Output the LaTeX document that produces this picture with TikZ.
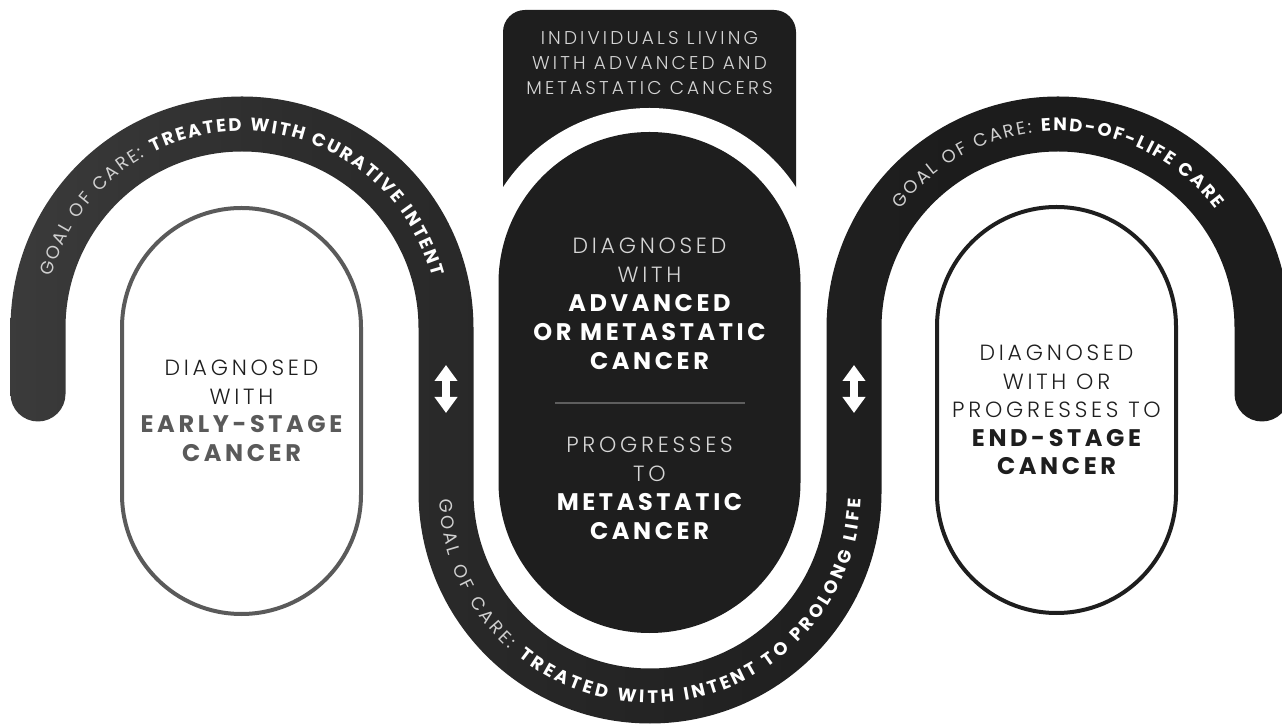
\documentclass[tikz,border=0pt]{standalone}
\usepackage{fontspec}
\setmainfont{Poppins}
\newfontfamily\lightfont{Poppins Light}[LetterSpace=17]
\newfontfamily\heavyfont{Poppins Bold}[LetterSpace=15]
\newfontfamily\arclight{Poppins}
\newfontfamily\archeavy{Poppins Bold}
\usetikzlibrary{positioning,decorations.text,arrows.meta}

\definecolor{bandlight}{HTML}{5A5A5A}
\definecolor{bandmid}{HTML}{2D2D2D}
\definecolor{banddark}{HTML}{1C1C1C}
\definecolor{boxdark}{HTML}{1E1E1E}
\definecolor{earlygray}{HTML}{5A5A5A}
\definecolor{softwhite}{HTML}{D6D6D6}
\definecolor{goalgray}{HTML}{D0D0D0}
\definecolor{inkdark}{HTML}{1E1E1E}
\definecolor{rulegray}{HTML}{5E5E5E}

\pgfdeclarehorizontalshading{bandshade}{100bp}{color(0bp)=(bandlight); color(36bp)=(bandmid); color(62bp)=(banddark); color(100bp)=(banddark)}

\newcommand{\arcsize}{\fontsize{18}{18}\selectfont}
\newcommand{\boldsize}{\fontsize{24}{29}\selectfont}

\begin{document}
\begin{tikzpicture}[x=1pt, y=1pt,
    capsule/.style={rectangle, minimum width=239pt, minimum height=406pt,
      rounded corners=119.5pt, line width=4pt, fill=white, inner sep=0pt,
      align=center, font=\fontsize{22}{28.5}\selectfont},
    midpill/.style={rectangle, minimum width=302pt, minimum height=501pt,
      rounded corners=151pt, fill=boxdark, inner sep=0pt,
      preaction={draw=white, line width=48pt}},
    midtext/.style={text=softwhite, align=center, inner sep=0pt,
      font=\fontsize{22}{29}\selectfont},
    tabtext/.style={text=softwhite, align=center, inner sep=0pt,
      font=\fontsize{18.5}{25}\selectfont},
    divider/.style={rulegray, line width=1.5pt},
    twoway/.style={white, line width=8pt,
      {Triangle[width=22pt,length=16pt]}-{Triangle[width=22pt,length=16pt]}},
    goal/.style={decorate, decoration={text along path,
      text align=fit to path, text={#1}}}]

   \useasboundingbox (0,0) rectangle (1282,723);

   % winding band
   \shade[shading=bandshade]
     (10.5,329) -- (10.5,395) arc[start angle=180, end angle=0, radius=231.5]
     -- (473.5,231) arc[start angle=180, end angle=360, radius=176.5]
     -- (826.5,395) arc[start angle=180, end angle=0, radius=231.5]
     -- (1289.5,329) arc[start angle=0, end angle=-180, radius=27.5]
     -- (1234.5,395) arc[start angle=0, end angle=180, radius=176.5]
     -- (881.5,231) arc[start angle=360, end angle=180, radius=231.5]
     -- (418.5,395) arc[start angle=0, end angle=180, radius=176.5]
     -- (65.5,329) arc[start angle=0, end angle=-180, radius=27.5]
     -- cycle;

   % upper tab
   \fill[boxdark, rounded corners=22pt] (503,443) rectangle (796,713);
   \node[tabtext] (tab) at (649.5,659.5)
     {\lightfont INDIVIDUALS LIVING\\ \lightfont WITH ADVANCED AND\\
      \lightfont METASTATIC CANCERS};

   % centre pill
   \node[midpill] (mid) at (649.5,340.5) {};
   \node[midtext] (midtop) at (649.5,419)
     {\lightfont DIAGNOSED\\ \lightfont WITH\\
      \boldsize\heavyfont\color{white}ADVANCED\\
      \boldsize\heavyfont\color{white}OR METASTATIC\\
      \boldsize\heavyfont\color{white}CANCER};
   \coordinate (divl) at (555,320);
   \coordinate (divr) at (745,320);
   \draw[divider] (divl) -- (divr);
   \node[midtext] (midlow) at (649.5,235)
     {\lightfont PROGRESSES\\ \lightfont TO\\
      \boldsize\heavyfont\color{white}METASTATIC\\
      \boldsize\heavyfont\color{white}CANCER};

   % side pills
   \node[capsule, draw=earlygray, text=inkdark] (early) at (241.5,312)
     {\lightfont DIAGNOSED\\ \lightfont WITH\\
      \boldsize\heavyfont\color{earlygray}EARLY-STAGE\\
      \boldsize\heavyfont\color{earlygray}CANCER};
   \node[capsule, draw=inkdark, text=inkdark] (endstage) at (1056.5,313)
     {\lightfont DIAGNOSED\\ \lightfont WITH OR\\ \lightfont PROGRESSES TO\\
      \boldsize\heavyfont END-STAGE\\ \boldsize\heavyfont CANCER};

   % two-way arrows
   \coordinate (lup) at (446,358);
   \coordinate (ldown) at (446,310);
   \coordinate (rup) at (854,358);
   \coordinate (rdown) at (854,310);
   \draw[twoway] (lup) -- (ldown);
   \draw[twoway] (rup) -- (rdown);

   % goal of care labels
   \coordinate (lefthub) at (242,395);
   \coordinate (lowhub) at (650,231);
   \coordinate (righthub) at (1058,395);
   \path[goal={|\arcsize\arclight\color{goalgray}|GOAL OF CARE: |\arcsize\archeavy\color{white}|TREATED WITH CURATIVE INTENT}]
     ([shift={(165:197)}]lefthub) arc[start angle=165, end angle=15, radius=197];
   \path[goal={|\arcsize\arclight\color{goalgray}|GOAL OF CARE: |\arcsize\archeavy\color{white}|TREATED WITH INTENT TO PROLONG LIFE}]
     ([shift={(182:211)}]lowhub) arc[start angle=182, end angle=358, radius=211];
   \path[goal={|\arcsize\arclight\color{goalgray}|GOAL OF CARE: |\arcsize\archeavy\color{white}|END-OF-LIFE CARE}]
     ([shift={(143:197)}]righthub) arc[start angle=143, end angle=37, radius=197];
\end{tikzpicture}
\end{document}
